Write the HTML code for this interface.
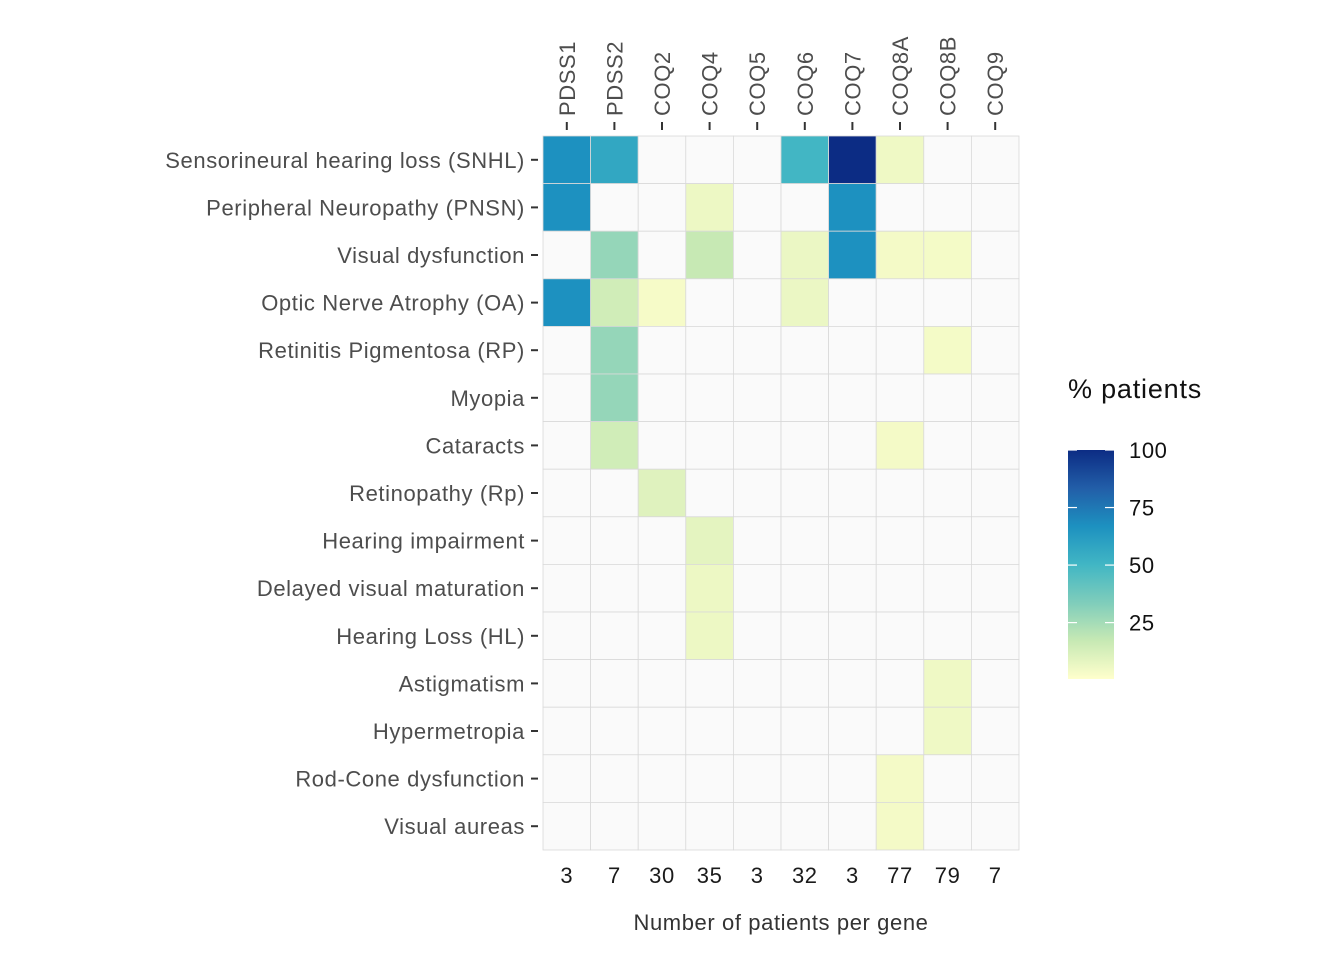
<!DOCTYPE html>
<html><head><meta charset="utf-8"><style>body{margin:0;background:#fff}svg{font-family:"Liberation Sans",sans-serif}</style></head>
<body>
<svg id="c" width="1344" height="960"></svg>
<script>
const genes=["PDSS1","PDSS2","COQ2","COQ4","COQ5","COQ6","COQ7","COQ8A","COQ8B","COQ9"];
const counts=[3,7,30,35,3,32,3,77,79,7];
const phenos=["Sensorineural hearing loss (SNHL)","Peripheral Neuropathy (PNSN)","Visual dysfunction","Optic Nerve Atrophy (OA)","Retinitis Pigmentosa (RP)","Myopia","Cataracts","Retinopathy (Rp)","Hearing impairment","Delayed visual maturation","Hearing Loss (HL)","Astigmatism","Hypermetropia","Rod-Cone dysfunction","Visual aureas"];
const values=[
[66.7,57.1,0,0,0,50,100,5.2,0,0],
[66.7,0,0,5.7,0,0,66.7,0,0,0],
[0,28.6,0,17.1,0,6.3,66.7,3.9,3.8,0],
[66.7,14.3,3.3,0,0,6.3,0,0,0,0],
[0,28.6,0,0,0,0,0,0,3.8,0],
[0,28.6,0,0,0,0,0,0,0,0],
[0,14.3,0,0,0,0,0,3.9,0,0],
[0,0,10,0,0,0,0,0,0,0],
[0,0,0,8.6,0,0,0,0,0,0],
[0,0,0,5.7,0,0,0,0,0,0],
[0,0,0,5.7,0,0,0,0,0,0],
[0,0,0,0,0,0,0,0,5.1,0],
[0,0,0,0,0,0,0,0,5.1,0],
[0,0,0,0,0,0,0,3.9,0,0],
[0,0,0,0,0,0,0,3.9,0,0]];
const legendTicks=[25,50,75,100];
const stops=["#ffffcc","#c7e9b4","#7fcdbb","#41b6c4","#1d91c0","#225ea8","#0c2c84"];
const vmin=0.5,vmax=100;
const NS="http://www.w3.org/2000/svg",svg=document.getElementById("c");
function mk(t,a,txt){const e=document.createElementNS(NS,t);for(const k in a)e.setAttribute(k,a[k]);if(txt!=null)e.textContent=txt;svg.appendChild(e);return e;}
function h2r(h){return[1,3,5].map(i=>parseInt(h.substr(i,2),16));}
function col(v){let t=Math.max(0,Math.min(1,(v-vmin)/(vmax-vmin)))*(stops.length-1);let i=Math.min(Math.floor(t),stops.length-2),f=t-i;const a=h2r(stops[i]),b=h2r(stops[i+1]);return"rgb("+a.map((x,k)=>Math.round(x+(b[k]-x)*f)).join(",")+")";}
const x0=543,y0=136,cw=47.6,ch=47.6;
const xs=i=>x0+i*cw, ys=j=>y0+j*ch;
const TS={"font-size":22,"letter-spacing":0.6};
phenos.forEach((p,j)=>{
 genes.forEach((g,i)=>{
  const v=values[j][i];
  const r=mk("rect",{x:xs(i),y:ys(j),width:cw,height:ch,fill:v>0?col(v):"#fafafa",stroke:"#d9d9d9","stroke-width":0.8});
  
  
 });
 const t=mk("text",Object.assign({x:525,y:ys(j)+ch/2+8,"text-anchor":"end",fill:"#4d4d4d"},TS),p);
 
 
 mk("line",{x1:531,x2:538,y1:ys(j)+ch/2,y2:ys(j)+ch/2,stroke:"#333","stroke-width":2});
});
genes.forEach((g,i)=>{
 const cx=xs(i)+cw/2;
 const t=mk("text",Object.assign({x:cx+8,y:116,fill:"#4d4d4d",transform:"rotate(-90 "+(cx+8)+" 116)"},TS),g);
 
 
 mk("line",{x1:cx,x2:cx,y1:122,y2:130,stroke:"#333","stroke-width":2});
 const c=mk("text",Object.assign({x:cx,y:883,"text-anchor":"middle",fill:"#1a1a1a"},TS),counts[i]);
 
 
});
mk("text",Object.assign({x:781,y:930,"text-anchor":"middle",fill:"#333"},TS),"Number of patients per gene");
mk("text",{x:1068,y:398,"font-size":27,"letter-spacing":0.8,fill:"#111"},"% patients");
const defs=mk("defs",{});const lg=document.createElementNS(NS,"linearGradient");lg.setAttribute("id","g");lg.setAttribute("x1",0);lg.setAttribute("y1",1);lg.setAttribute("x2",0);lg.setAttribute("y2",0);
stops.forEach((s,k)=>{const st=document.createElementNS(NS,"stop");st.setAttribute("offset",k/(stops.length-1));st.setAttribute("stop-color",s);lg.appendChild(st);});defs.appendChild(lg);
const lb=679,lt=450,ly=v=>lb-(v-vmin)/(vmax-vmin)*(lb-lt);
mk("rect",{x:1068,y:lt,width:46,height:lb-lt,fill:"url(#g)"});
legendTicks.forEach(v=>{const y=ly(v);
 mk("line",{x1:1068,x2:1077,y1:y,y2:y,stroke:"#fff","stroke-width":1.2});
 mk("line",{x1:1105,x2:1114,y1:y,y2:y,stroke:"#fff","stroke-width":1.2});
 const t=mk("text",Object.assign({x:1129,y:y+8,fill:"#111"},TS),v);
 
 
});
</script>
</body></html>
